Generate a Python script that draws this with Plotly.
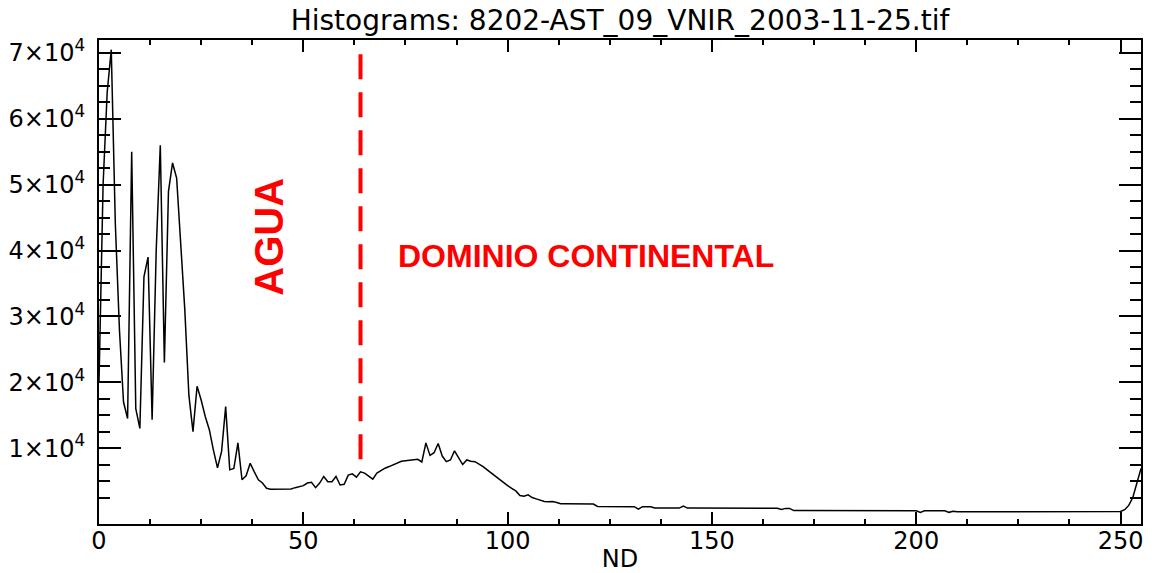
import plotly.graph_objects as go

# ---- data ----
nd = list(range(256))
counts = [
    20000, 50000, 64000, 70500, 44000, 28000, 17000, 14500, 55000, 16000,
    13000, 36000, 39000, 14300, 40000, 56000, 23000, 49000, 53300, 51000,
    41000, 31000, 18000, 12500, 19400, 17300, 14800, 12800, 9700, 7000,
    9500, 16300, 6700, 6900, 10800, 5200, 5800, 7700, 6400, 5200,
    4700, 3900, 3750, 3750, 3750, 3750, 3750, 3800, 4000, 4100,
    4300, 4700, 4800, 4000, 4700, 5700, 4900, 4900, 5700, 4400,
    4500, 5900, 6100, 5600, 6400, 6200, 5800, 5300, 6200, 6600,
    6950, 7200, 7500, 7800, 8000, 8100, 8200, 8200, 8300, 7900,
    10800, 8900, 9300, 10700, 8800, 7950, 8200, 9600, 8600, 7500,
    8200, 8000, 7950, 7600, 7200, 6700, 6200, 5700, 5200, 4700,
    4300, 3900, 3500, 2800, 2700, 2900, 2500, 2300, 2100, 1900,
    1850, 1900, 1750, 1550, 1550, 1550, 1540, 1540, 1530, 1530,
    1520, 1500, 1150, 1150, 1150, 1140, 1140, 1130, 1130, 1120,
    1120, 1110, 750, 1110, 1100, 1100, 900, 900, 900, 900,
    900, 900, 900, 1200, 900, 900, 900, 890, 890, 890,
    890, 890, 880, 880, 880, 880, 880, 870, 870, 870,
    870, 870, 860, 860, 860, 860, 860, 700, 850, 850,
    520, 520, 520, 520, 520, 520, 520, 515, 515, 515,
    515, 515, 515, 510, 510, 510, 510, 510, 510, 510,
    505, 505, 505, 505, 505, 505, 505, 505, 500, 500,
    500, 250, 500, 500, 500, 500, 500, 500, 250, 400,
    340, 340, 340, 340, 340, 335, 335, 335, 335, 335,
    330, 330, 330, 330, 330, 330, 330, 325, 325, 325,
    325, 325, 325, 325, 320, 320, 320, 320, 320, 320,
    320, 320, 315, 315, 315, 315, 315, 315, 315, 315,
    380, 650, 1300, 2500, 4800, 6900,
]

y_major = [10000, 20000, 30000, 40000, 50000, 60000, 70000]
y_labels = ["1×10<sup>4</sup>", "2×10<sup>4</sup>", "3×10<sup>4</sup>",
            "4×10<sup>4</sup>", "5×10<sup>4</sup>", "6×10<sup>4</sup>",
            "7×10<sup>4</sup>"]
y_minor = [2500, 5000, 7500, 12500, 15000, 17500, 22500, 25000, 27500,
           32500, 35000, 37500, 42500, 45000, 47500, 52500, 55000, 57500,
           62500, 65000, 67500]
x_major = [0, 50, 100, 150, 200, 250]

divider_nd = 64
divider_span = [69800, 7400]

title_text = "Histograms: 8202-AST_09_VNIR_2003-11-25.tif"
x_title = "ND"
label_water = "AGUA"
label_land = "DOMINIO CONTINENTAL"
water_pos = (41.6, 42100)
land_pos = (119.1, 39200)

tick_font = dict(family="DejaVu Sans", size=24, color="black")

# the page body adds an 8px margin, so the figure is sized to fit inside it
W, H = 1148, 565

fig = go.Figure()
fig.add_trace(go.Scatter(
    x=nd, y=counts, mode="lines",
    line=dict(color="black", width=1.5),
    showlegend=False, hoverinfo="skip",
))

fig.add_shape(type="line", xref="x", yref="y",
              x0=divider_nd, x1=divider_nd,
              y0=divider_span[0], y1=divider_span[1],
              line=dict(color="#ff0000", width=4, dash="25px,13px"))

fig.add_annotation(x=water_pos[0], y=water_pos[1], xref="x", yref="y",
                   text="<b>" + label_water + "</b>", textangle=-90,
                   showarrow=False,
                   font=dict(family="Liberation Sans, Arial", size=40,
                             color="#ff0000"))
fig.add_annotation(x=land_pos[0], y=land_pos[1], xref="x", yref="y",
                   text="<b>" + label_land + "</b>",
                   showarrow=False,
                   font=dict(family="Liberation Sans, Arial", size=32,
                             color="#ff0000"))

fig.update_layout(
    width=W, height=H,
    margin=dict(l=91, r=15, t=32, b=49, pad=0, autoexpand=False),
    paper_bgcolor="white", plot_bgcolor="white",
    title=dict(text=title_text, x=0.5, xref="paper", y=1 - 12 / H,
               yref="container", xanchor="center", yanchor="middle",
               font=dict(family="DejaVu Sans", size=28, color="black")),
    xaxis=dict(
        range=[0, 255], showgrid=False, zeroline=False, automargin=False,
        showline=True, linecolor="black", linewidth=2, mirror="ticks",
        ticks="inside", ticklen=12, tickwidth=1.5, tickcolor="black",
        tickmode="array", tickvals=x_major,
        ticktext=[str(v) for v in x_major],
        tickfont=tick_font, ticklabelstandoff=-6,
        minor=dict(ticks="inside", ticklen=5, tickwidth=1.5,
                   tickcolor="black", dtick=12.5, tick0=0, showgrid=False),
        title=dict(text=x_title, font=tick_font, standoff=6),
    ),
    yaxis=dict(
        range=[-1520, 71970], showgrid=False, zeroline=False, automargin=False,
        showline=True, linecolor="black", linewidth=2, mirror="ticks",
        ticks="inside", ticklen=22, tickwidth=1.5, tickcolor="black",
        tickmode="array", tickvals=y_major, ticktext=y_labels,
        tickfont=tick_font, ticklabelstandoff=7,
        minor=dict(ticks="inside", ticklen=11, tickwidth=1.5,
                   tickcolor="black", tickmode="array", tickvals=y_minor,
                   showgrid=False),
    ),
)

fig.write_html("out.html")
